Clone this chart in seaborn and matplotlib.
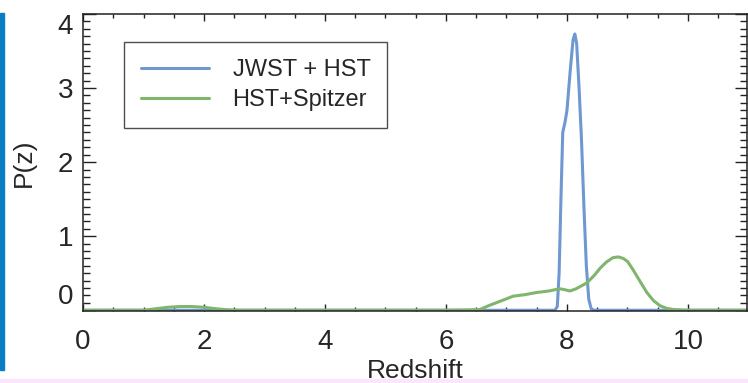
import matplotlib
matplotlib.use('Agg')
import matplotlib.pyplot as plt
import seaborn as sns
import pandas as pd
from matplotlib.patches import Rectangle
from matplotlib.ticker import MultipleLocator

# P(z)
jwst_z = [0.0, 7.70, 7.80, 7.84, 7.87, 7.90, 7.93, 7.97, 8.00, 8.05, 8.10, 8.13,
          8.16, 8.20, 8.24, 8.28, 8.32, 8.36, 8.40, 8.45, 11.0]
jwst_p = [0.0, 0.0, 0.0, 0.05, 0.5, 1.5, 2.4, 2.55, 2.7, 3.2, 3.65, 3.73,
          3.6, 3.0, 2.3, 1.4, 0.6, 0.15, 0.02, 0.0, 0.0]

spitzer_z = [0.0, 1.0, 1.2, 1.4, 1.6, 1.8, 2.0, 2.2, 2.4, 2.6, 6.0, 6.4, 6.56,
             6.7, 6.89, 7.11, 7.3, 7.5, 7.7, 7.88, 7.95, 8.05, 8.15, 8.33, 8.45,
             8.55, 8.65, 8.76, 8.85, 8.93, 9.0, 9.09, 9.2, 9.32, 9.43, 9.54,
             9.65, 9.76, 10.0, 11.0]
spitzer_p = [0.0, 0.0, 0.02, 0.04, 0.05, 0.05, 0.04, 0.02, 0.005, 0.0, 0.0, 0.005, 0.01,
             0.06, 0.12, 0.19, 0.21, 0.24, 0.26, 0.29, 0.28, 0.26, 0.29, 0.37, 0.47,
             0.57, 0.65, 0.71, 0.72, 0.70, 0.66, 0.55, 0.40, 0.24, 0.13, 0.06,
             0.025, 0.01, 0.0, 0.0]

labels = ['JWST + HST', 'HST+Spitzer']
colors = ['#6f97d0', '#7fb56c']

df = pd.concat([
    pd.DataFrame({'z': jwst_z, 'p': jwst_p, 'survey': labels[0]}),
    pd.DataFrame({'z': spitzer_z, 'p': spitzer_p, 'survey': labels[1]}),
])

sns.set_style('ticks')
plt.rcParams['font.family'] = ['Liberation Sans', 'DejaVu Sans']

fig = plt.figure(figsize=(7.48, 3.83), dpi=100)
ax = fig.add_axes([0.111, 0.188, 0.888, 0.7755])

sns.lineplot(data=df, x='z', y='p', hue='survey', palette=colors,
             hue_order=labels, linewidth=2.2, sort=False, estimator=None, ax=ax)

ax.set_xlim(0, 10.98)
ax.set_ylim(-0.01, 4.0)
ax.xaxis.set_major_locator(MultipleLocator(2))
ax.xaxis.set_minor_locator(MultipleLocator(0.5))
ax.yaxis.set_major_locator(MultipleLocator(1))
ax.yaxis.set_minor_locator(MultipleLocator(0.1))

ax.tick_params(axis='both', which='both', direction='in', top=True, right=True,
               labelsize=20, width=1, color='#222222')
ax.tick_params(axis='x', which='major', length=5, pad=13)
ax.tick_params(axis='x', which='minor', length=3)
ax.tick_params(axis='y', which='major', length=9, pad=7)
ax.tick_params(axis='y', which='minor', length=5)
for s in ax.spines.values():
    s.set_linewidth(1.1)
    s.set_color('#222222')

ax.set_xlabel('Redshift', fontsize=19, va='baseline')
ax.xaxis.set_label_coords(0.5, -0.227)
ax.set_ylabel('P(z)', fontsize=19, labelpad=16)

# keep end labels inside the axis like the original
fig.canvas.draw()
for t in ax.get_yticklabels():
    if t.get_text() == '4':
        t.set_va('top')
    elif t.get_text() == '0':
        t.set_va('bottom')

leg = ax.legend(loc='upper left', bbox_to_anchor=(0.0617, 0.904), fontsize=17,
                frameon=True, fancybox=False, edgecolor='#222222',
                handlelength=2.9, handletextpad=1.0, borderpad=0.7,
                labelspacing=0.35, borderaxespad=0)
leg.get_frame().set_linewidth(1.0)

# blue sidebar and pink strip from the slide
fig.patches.append(Rectangle((0, 1 - 370 / 383), 4 / 748, 357 / 383,
                             transform=fig.transFigure, color='#0b7dc3', zorder=0))
fig.patches.append(Rectangle((0, 0), 1, 4 / 383, transform=fig.transFigure,
                             color='#fbe6fb', zorder=0))

fig.savefig('out.png', dpi=100)
